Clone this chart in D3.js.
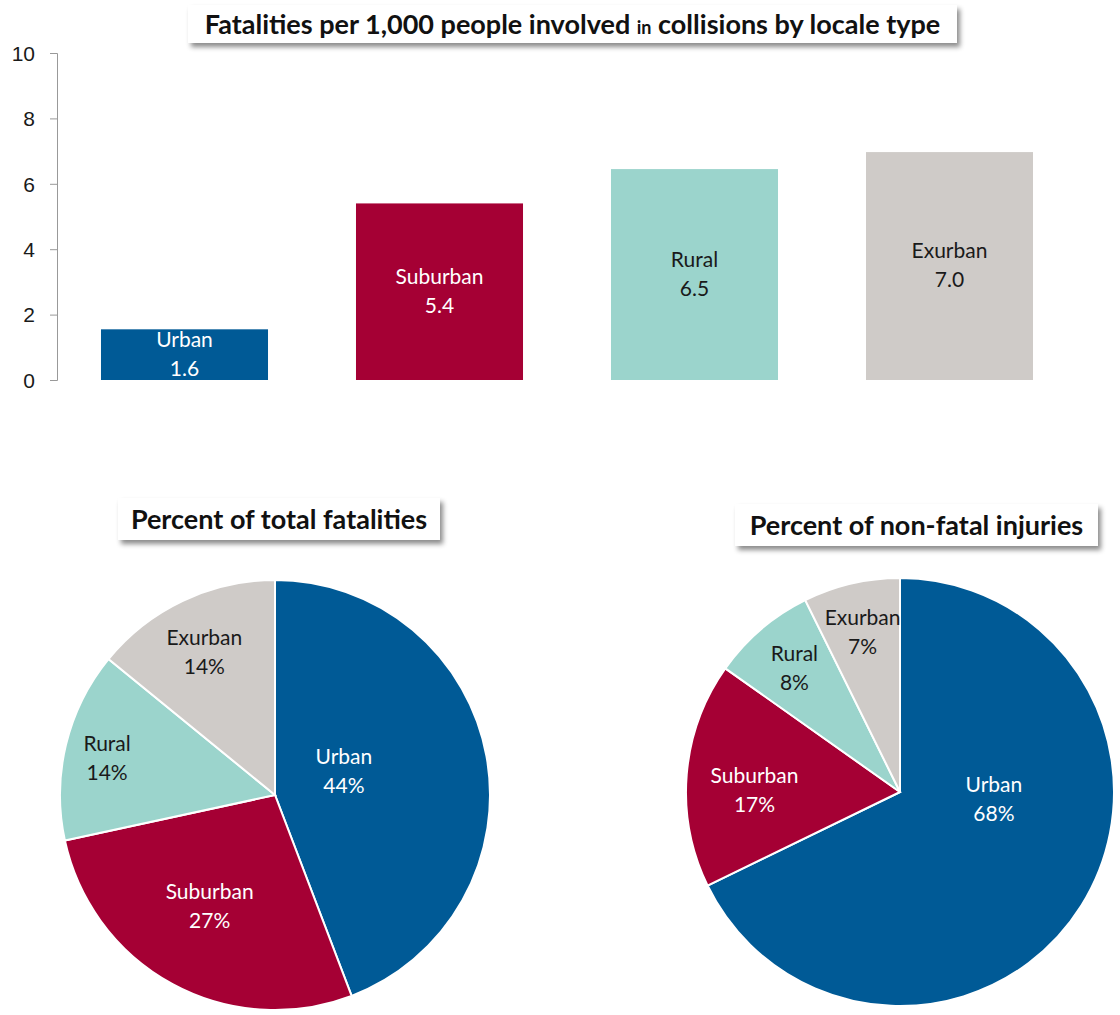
<!DOCTYPE html>
<html>
<head>
<meta charset="utf-8">
<script src="https://d3js.org/d3.v7.min.js"></script>
<style>
  body { margin: 0; background: #fff; }
  svg { display: block; font-family: Lato, "Open Sans", sans-serif; }
  .tick text { font-size: 21px; fill: #1a1a1a; }
  .axis path, .axis line { stroke: #999; }
</style>
</head>
<body>
<svg id="chart" width="1120" height="1015"></svg>
<script>
// data
var locales = ["Urban", "Suburban", "Rural", "Exurban"];
var fatalityRate = [1.55, 5.4, 6.45, 6.97];
var rateLabels = ["1.6", "5.4", "6.5", "7.0"];
var yTicks = [0, 2, 4, 6, 8, 10];

var fatalShare = [44.2, 27.4, 14.3, 14.1];
var injuryShare = [67.8, 17.0, 7.9, 7.3];

var colors = ["#005a96", "#a50034", "#9bd4cc", "#cfcbc8"];
var textColors = ["#fff", "#fff", "#1a1a1a", "#1a1a1a"];

var svg = d3.select("#chart");

// drop shadow for title boxes
var defs = svg.append("defs");
defs.append("filter").attr("id", "shadow")
  .attr("x", "-10%").attr("y", "-30%").attr("width", "120%").attr("height", "170%")
  .append("feDropShadow")
  .attr("dx", 3).attr("dy", 4).attr("stdDeviation", 2.5)
  .attr("flood-color", "#000").attr("flood-opacity", 0.45);

function titleBox(x, y, w, h, parts, fs) {
  var g = svg.append("g");
  g.append("rect").attr("x", x).attr("y", y).attr("width", w).attr("height", h)
    .attr("fill", "#fff").attr("filter", "url(#shadow)");
  var t = g.append("text").attr("x", x + w / 2).attr("y", y + h / 2 + fs * 0.36)
    .attr("text-anchor", "middle").attr("font-weight", "bold").attr("fill", "#111")
    .attr("font-size", fs);
  parts.forEach(function(p) {
    t.append("tspan").attr("font-size", p.size || fs).text(p.text);
  });
}

// ---- bar chart ----
var x = d3.scaleBand().domain(locales).range([57, 1077])
  .paddingInner(0.345).paddingOuter(0.1725);
var y = d3.scaleLinear().domain([0, 10]).range([380, 53]);

svg.append("g").attr("class", "axis")
  .attr("transform", "translate(57,0)")
  .call(d3.axisLeft(y).tickValues(yTicks).tickSize(7).tickPadding(15))
  .call(function(g) { g.selectAll(".tick text").attr("dy", "0.35em"); });

var bars = svg.append("g").selectAll("g").data(locales).join("g");
bars.append("rect")
  .attr("x", function(d) { return x(d); })
  .attr("width", x.bandwidth())
  .attr("y", function(d, i) { return y(fatalityRate[i]); })
  .attr("height", function(d, i) { return y(0) - y(fatalityRate[i]); })
  .attr("fill", function(d, i) { return colors[i]; });
bars.append("text")
  .attr("x", function(d) { return x(d) + x.bandwidth() / 2; })
  .attr("y", function(d, i) { return (y(fatalityRate[i]) + y(0)) / 2; })
  .attr("text-anchor", "middle").attr("font-size", 21)
  .attr("fill", function(d, i) { return textColors[i]; })
  .each(function(d, i) {
    var t = d3.select(this);
    var cy = +t.attr("y");
    t.append("tspan").attr("x", t.attr("x")).attr("y", cy - 8).text(d);
    t.append("tspan").attr("x", t.attr("x")).attr("y", cy + 21).text(rateLabels[i]);
  });

titleBox(188, 5, 769, 38, [
  { text: "Fatalities per 1,000 people involved " },
  { text: "in", size: 18 },
  { text: " collisions by locale type" }
], 27);

// ---- pies ----
function drawPie(cx, cy, r, values, labelR, labelShift) {
  var pie = d3.pie().sort(null).value(function(d) { return d; });
  var arcs = pie(values);
  var arc = d3.arc().innerRadius(0).outerRadius(r);
  var g = svg.append("g").attr("transform", "translate(" + cx + "," + cy + ")");
  g.selectAll("path").data(arcs).join("path")
    .attr("d", arc)
    .attr("fill", function(d, i) { return colors[i]; })
    .attr("stroke", "#fff").attr("stroke-width", 2);
  g.selectAll("text").data(arcs).join("text")
    .attr("text-anchor", "middle").attr("font-size", 21)
    .attr("fill", function(d, i) { return textColors[i]; })
    .each(function(d, i) {
      var a = (d.startAngle + d.endAngle) / 2 + labelShift[i] * Math.PI / 180;
      var lx = Math.sin(a) * r * labelR[i], ly = -Math.cos(a) * r * labelR[i];
      var t = d3.select(this);
      t.append("tspan").attr("x", lx).attr("y", ly - 7).text(locales[i]);
      t.append("tspan").attr("x", lx).attr("y", ly + 22).text(d3.format(".0f")(d.data) + "%");
    });
}

drawPie(275, 795, 215, fatalShare, [0.34, 0.6, 0.8, 0.74], [-9, 2, -1, -1]);
drawPie(900, 792, 214, injuryShare, [0.44, 0.68, 0.76, 0.77], [-28, -4, 0, 0]);

titleBox(118, 498, 322, 42, [{ text: "Percent of total fatalities" }], 27);
titleBox(735, 504, 363, 42, [{ text: "Percent of non-fatal injuries" }], 27);
</script>
</body>
</html>
